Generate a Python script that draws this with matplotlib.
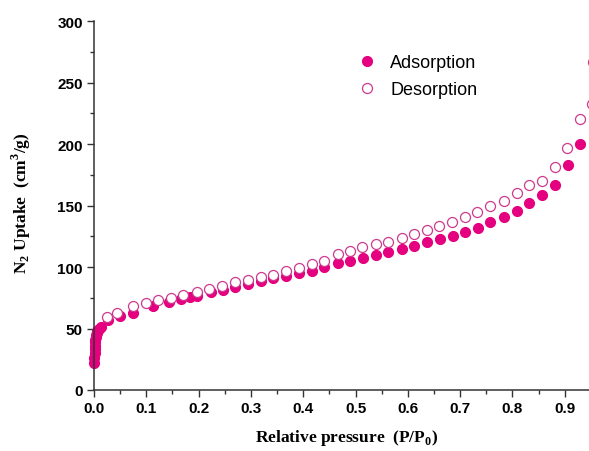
import numpy as np
import matplotlib.pyplot as plt
from matplotlib.ticker import MultipleLocator

# adsorption branch (filled)
ads_p = [0.0005, 0.0008, 0.0010, 0.0012, 0.0015, 0.0020, 0.0025, 0.0030, 0.0040,
         0.0050, 0.0060, 0.0080, 0.0100, 0.0130,
         0.027, 0.050, 0.075, 0.113, 0.144, 0.166, 0.184, 0.196, 0.223, 0.246,
         0.270, 0.294, 0.319, 0.343, 0.367, 0.392, 0.416, 0.440, 0.466, 0.489,
         0.515, 0.539, 0.563, 0.588, 0.612, 0.636, 0.662, 0.686, 0.710, 0.734,
         0.758, 0.784, 0.808, 0.832, 0.857, 0.881, 0.906, 0.930]
ads_v = [22, 26, 30, 33, 36, 39, 41, 43, 45,
         46.5, 48, 49, 50, 51,
         57, 60, 63, 68, 71.3, 74, 75.3, 76.7, 79.4, 81.5,
         83.5, 86, 88.9, 90.8, 92.9, 95.5, 97, 100, 103, 104.6,
         107.3, 109.8, 112, 114.6, 116.8, 120, 122.5, 125.5, 128.8, 132.1,
         136.3, 141, 145.8, 151.8, 158.8, 166.7, 183.2, 200]

# desorption branch (open)
des_p = [0.024, 0.044, 0.074, 0.099, 0.123, 0.147, 0.170, 0.196, 0.220, 0.245,
         0.270, 0.294, 0.319, 0.343, 0.367, 0.392, 0.416, 0.440, 0.466, 0.489,
         0.513, 0.539, 0.563, 0.588, 0.612, 0.636, 0.660, 0.685, 0.709, 0.733,
         0.758, 0.783, 0.808, 0.832, 0.856, 0.881, 0.904, 0.929, 0.953, 0.955]
des_v = [59.6, 63, 68, 70.7, 73, 75, 77.5, 80, 82, 84.5,
         87.5, 89.4, 91.6, 93.8, 96.5, 99.2, 102.4, 105, 110.6, 113.3,
         116, 118.7, 120.6, 123.6, 126.8, 129.8, 133.6, 137, 140.9, 144.4,
         149.3, 154, 160, 166.7, 170.2, 181, 196.7, 220.3, 232.5, 266.4]

fig = plt.figure(figsize=(5.89, 4.52), dpi=100)
# the original image is cut on the right, so the axes runs past the figure edge
ax = fig.add_axes([0.1596, 0.135, 0.888, 0.816])

pink = '#E4007F'
ax.plot(ads_p, ads_v, 'o', ms=7.2, mfc=pink, mec=pink, mew=0.8,
        label='Adsorption', clip_on=False)
ax.plot(des_p, des_v, 'o', ms=7.2, mfc='white', mec='#CC3A8E', mew=0.9,
        label='Desorption', clip_on=False)

ax.set_xlim(0, 1.0)
ax.set_ylim(0, 300)
ax.xaxis.set_minor_locator(MultipleLocator(0.05))
ax.yaxis.set_major_locator(MultipleLocator(50))
ax.yaxis.set_minor_locator(MultipleLocator(25))
ax.set_xticks(np.arange(0, 1.0, 0.1))
ax.set_xticklabels(['%.1f' % v for v in np.arange(0, 1.0, 0.1)])

for s in ['top', 'right']:
    ax.spines[s].set_visible(False)
for s in ['left', 'bottom']:
    ax.spines[s].set_linewidth(1.1)
    ax.spines[s].set_color('#333333')

ax.tick_params(which='major', direction='out', length=5, width=1.0, color='#333333', pad=3)
ax.tick_params(which='minor', direction='out', length=3, width=1.0, color='#333333')
for lab in ax.get_xticklabels() + ax.get_yticklabels():
    lab.set_fontfamily('Liberation Sans')
    lab.set_fontweight('bold')
    lab.set_fontsize(11)

ax.set_xlabel('Relative pressure  (P/P$_\\mathregular{0}$)', family='Liberation Serif',
              fontweight='bold', fontsize=12.5)
ax.xaxis.set_label_coords(0.482, -0.1)
ax.set_ylabel('N$_\\mathregular{2}$ Uptake  (cm$^\\mathregular{3}$/g)', family='Liberation Serif',
              fontweight='bold', fontsize=12.5)
ax.yaxis.set_label_coords(-0.116, 0.51)

leg = ax.legend(loc='upper left', bbox_to_anchor=(0.473, 0.955), frameon=False,
                prop={'family': 'Liberation Sans', 'size': 13},
                handletextpad=0.8, labelspacing=0.55, handlelength=1.0)

fig.savefig('out.png', dpi=100)
